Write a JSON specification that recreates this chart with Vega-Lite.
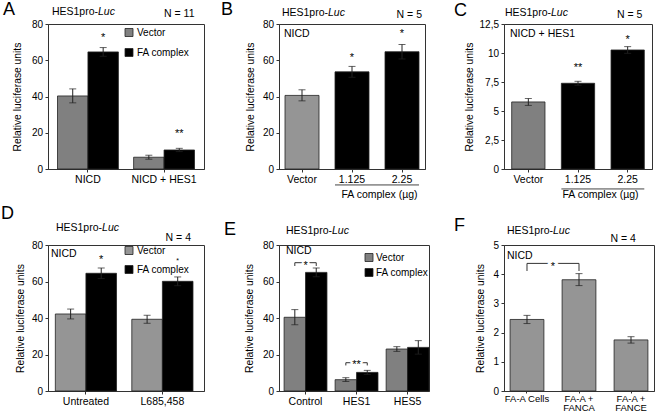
{
"$schema": "https://vega.github.io/schema/vega-lite/v6.json",
"padding": 0,
"background": "white",
"bounds": "flush",
"align": "each",
"columns": 3,
"spacing": {"row": 76, "column": 75},
"resolve": {"scale": {"fill": "independent", "x": "independent", "y": "independent", "xOffset": "independent"}, "legend": {"fill": "independent"}},
"config": {
  "font": "Liberation Sans",
  "view": {"stroke": "#333", "strokeWidth": 1},
  "axis": {"grid": false, "labelColor": "black", "titleColor": "black", "titleFontWeight": "normal", "titleFontSize": 10.3, "domainColor": "#333", "tickColor": "#333", "tickSize": 3, "labelPadding": 2.5},
  "axisX": {"labelAngle": 0, "labelFontSize": 10.5},
  "axisY": {"labelFontSize": 10, "titlePadding": 7, "labelOverlap": false},
  "title": {"fontSize": 18, "fontWeight": "normal", "anchor": "start", "frame": "group", "offset": 0, "color": "black"},
  "text": {"fontSize": 10.5, "color": "black"},
  "legend": {"orient": "none", "title": null, "symbolType": "square", "symbolSize": 64, "symbolStrokeColor": "#222", "symbolStrokeWidth": 0.8, "symbolOpacity": 1, "labelFontSize": 10, "labelOffset": 3, "padding": 0, "labelColor": "black"}
},
"concat": [
  {
   "width": 156, "height": 145,
   "title": {"text": "A", "dx": -45, "dy": 16},
   "layer": [
    {"data": {"values": [
      {"cat": "NICD", "grp": "Vector", "v": 40.3, "lo": 36.5, "hi": 44.2},
      {"cat": "NICD", "grp": "FA complex", "v": 64.6, "lo": 62.2, "hi": 67.0},
      {"cat": "NICD + HES1", "grp": "Vector", "v": 6.5, "lo": 5.4, "hi": 7.6},
      {"cat": "NICD + HES1", "grp": "FA complex", "v": 10.5, "lo": 9.6, "hi": 11.4}]},
     "layer": [
      {"mark": {"type": "bar", "stroke": "#222", "strokeWidth": 0.8},
       "encoding": {
        "x": {"field": "cat", "type": "nominal", "scale": {"domain": ["NICD", "NICD + HES1"], "paddingInner": 0.2, "paddingOuter": 0.125}, "axis": {"title": null}},
        "xOffset": {"field": "grp", "type": "nominal", "scale": {"domain": ["Vector", "FA complex"], "paddingInner": 0, "paddingOuter": 0}},
        "y": {"field": "v", "type": "quantitative", "scale": {"domain": [0, 80], "nice": false}, "axis": {"title": "Relative luciferase units", "values": [0, 20, 40, 60, 80], "tickCount": 5, "labelOverlap": false, "titlePadding": 9}},
        "fill": {"field": "grp", "type": "nominal", "scale": {"domain": ["Vector", "FA complex"], "range": ["#808080", "#000000"]}, "legend": {"legendX": 76, "legendY": 3.5, "rowPadding": 8}}}},
      {"mark": {"type": "rule", "color": "#222"}, "encoding": {"x": {"field": "cat", "type": "nominal"}, "xOffset": {"field": "grp", "type": "nominal"}, "y": {"field": "lo", "type": "quantitative"}, "y2": {"field": "hi"}}},
      {"mark": {"type": "tick", "color": "#222", "size": 7, "thickness": 1}, "encoding": {"x": {"field": "cat", "type": "nominal"}, "xOffset": {"field": "grp", "type": "nominal"}, "y": {"field": "hi", "type": "quantitative"}}},
      {"mark": {"type": "tick", "color": "#222", "size": 7, "thickness": 1}, "encoding": {"x": {"field": "cat", "type": "nominal"}, "xOffset": {"field": "grp", "type": "nominal"}, "y": {"field": "lo", "type": "quantitative"}}}
     ]},
    {"data": {"values": [{"cat": "NICD", "grp": "FA complex", "v": 74.3, "label": "*"}, {"cat": "NICD + HES1", "grp": "FA complex", "v": 21.0, "label": "**"}]},
     "mark": {"type": "text", "fontSize": 11, "baseline": "alphabetic", "dy": 6.4},
     "encoding": {"x": {"field": "cat", "type": "nominal"}, "xOffset": {"field": "grp", "type": "nominal"}, "y": {"field": "v", "type": "quantitative"}, "text": {"field": "label"}}},
    {"data": {"values": [{}]},
     "layer": [
      {"mark": {"type": "text", "text": "HES1pro-", "align": "right", "baseline": "middle", "dx": 40.5}, "encoding": {"x": {"datum": "NICD", "bandPosition": 0}, "y": {"datum": 86.6}}},
      {"mark": {"type": "text", "text": "Luc", "fontStyle": "italic", "align": "left", "baseline": "middle", "dx": 40.5}, "encoding": {"x": {"datum": "NICD", "bandPosition": 0}, "y": {"datum": 86.6}}},
      {"mark": {"type": "text", "text": "N = 11", "align": "right", "baseline": "middle", "dx": 0}, "encoding": {"x": {"datum": "NICD + HES1", "bandPosition": 1}, "y": {"datum": 85.5}}}
     ]}
   ]
  },
  {
   "width": 146, "height": 145,
   "title": {"text": "B", "dx": -58, "dy": 15},
   "layer": [
    {"data": {"values": [
      {"cat": "Vector", "grp": "Vector", "v": 40.6, "lo": 37.6, "hi": 43.7},
      {"cat": "1.125", "grp": "FA complex", "v": 53.6, "lo": 50.6, "hi": 56.6},
      {"cat": "2.25", "grp": "FA complex", "v": 64.7, "lo": 60.7, "hi": 68.7}]},
     "layer": [
      {"mark": {"type": "bar", "stroke": "#222", "strokeWidth": 0.8},
       "encoding": {
        "x": {"field": "cat", "type": "nominal", "scale": {"domain": ["Vector", "1.125", "2.25"], "paddingInner": 0.32, "paddingOuter": 0.12}, "axis": {"title": "FA complex (µg)", "titleX": 100, "titleY": 20, "titleBaseline": "top", "titleAlign": "center", "titleFontSize": 10.5}},
        "y": {"field": "v", "type": "quantitative", "scale": {"domain": [0, 80], "nice": false}, "axis": {"title": "Relative luciferase units", "values": [0, 20, 40, 60, 80], "tickCount": 5, "labelOverlap": false}},
        "fill": {"field": "grp", "type": "nominal", "scale": {"domain": ["Vector", "FA complex"], "range": ["#959595", "#000000"]}, "legend": null}}},
      {"mark": {"type": "rule", "color": "#222"}, "encoding": {"x": {"field": "cat", "type": "nominal"}, "y": {"field": "lo", "type": "quantitative"}, "y2": {"field": "hi"}}},
      {"mark": {"type": "tick", "color": "#222", "size": 7, "thickness": 1}, "encoding": {"x": {"field": "cat", "type": "nominal"}, "y": {"field": "hi", "type": "quantitative"}}},
      {"mark": {"type": "tick", "color": "#222", "size": 7, "thickness": 1}, "encoding": {"x": {"field": "cat", "type": "nominal"}, "y": {"field": "lo", "type": "quantitative"}}}
     ]},
    {"data": {"values": [{"cat": "1.125", "v": 63.3, "label": "*"}, {"cat": "2.25", "v": 76.1, "label": "*"}]},
     "mark": {"type": "text", "fontSize": 11, "baseline": "alphabetic", "dy": 6.4},
     "encoding": {"x": {"field": "cat", "type": "nominal"}, "y": {"field": "v", "type": "quantitative"}, "text": {"field": "label"}}},
    {"data": {"values": [{"a": "1.125", "b": "2.25", "y": -8.8}]},
     "mark": {"type": "rule", "color": "#444", "strokeWidth": 1},
     "encoding": {"x": {"field": "a", "type": "nominal", "bandPosition": 0}, "x2": {"field": "b", "bandPosition": 1}, "y": {"field": "y", "type": "quantitative"}}},
    {"data": {"values": [{}]},
     "layer": [
      {"mark": {"type": "text", "text": "HES1pro-", "align": "right", "baseline": "middle", "dx": 43}, "encoding": {"x": {"datum": "Vector", "bandPosition": 0}, "y": {"datum": 86.2}}},
      {"mark": {"type": "text", "text": "Luc", "fontStyle": "italic", "align": "left", "baseline": "middle", "dx": 43}, "encoding": {"x": {"datum": "Vector", "bandPosition": 0}, "y": {"datum": 86.2}}},
      {"mark": {"type": "text", "text": "N = 5", "align": "right", "baseline": "middle", "dx": 3}, "encoding": {"x": {"datum": "2.25", "bandPosition": 1}, "y": {"datum": 85}}},
      {"mark": {"type": "text", "text": "NICD", "align": "left", "baseline": "middle", "dx": -1}, "encoding": {"x": {"datum": "Vector", "bandPosition": 0}, "y": {"datum": 74.5}}}
     ]}
   ]
  },
  {
   "width": 148, "height": 145,
   "title": {"text": "C", "dx": -50, "dy": 16.5},
   "layer": [
    {"data": {"values": [
      {"cat": "Vector", "grp": "Vector", "v": 5.78, "lo": 5.48, "hi": 6.08},
      {"cat": "1.125", "grp": "FA complex", "v": 7.39, "lo": 7.22, "hi": 7.56},
      {"cat": "2.25", "grp": "FA complex", "v": 10.26, "lo": 9.97, "hi": 10.55}]},
     "layer": [
      {"mark": {"type": "bar", "stroke": "#222", "strokeWidth": 0.8},
       "encoding": {
        "x": {"field": "cat", "type": "nominal", "scale": {"domain": ["Vector", "1.125", "2.25"], "paddingInner": 0.33, "paddingOuter": 0.155}, "axis": {"title": "FA complex (µg)", "titleX": 96, "titleY": 20, "titleBaseline": "top", "titleAlign": "center", "titleFontSize": 10.5}},
        "y": {"field": "v", "type": "quantitative", "scale": {"domain": [0, 12.5], "nice": false}, "axis": {"title": "Relative luciferase units", "tickCount": 25, "labelOverlap": false, "labelExpr": "datum.value % 2.5 == 0 ? replace(format(datum.value, '~g'), '.', ',') : ''", "tickOpacity": {"condition": {"test": "datum.value % 2.5 == 0", "value": 1}, "value": 0}, "titlePadding": 5}},
        "fill": {"field": "grp", "type": "nominal", "scale": {"domain": ["Vector", "FA complex"], "range": ["#808080", "#000000"]}, "legend": null}}},
      {"mark": {"type": "rule", "color": "#222"}, "encoding": {"x": {"field": "cat", "type": "nominal"}, "y": {"field": "lo", "type": "quantitative"}, "y2": {"field": "hi"}}},
      {"mark": {"type": "tick", "color": "#222", "size": 7, "thickness": 1}, "encoding": {"x": {"field": "cat", "type": "nominal"}, "y": {"field": "hi", "type": "quantitative"}}},
      {"mark": {"type": "tick", "color": "#222", "size": 7, "thickness": 1}, "encoding": {"x": {"field": "cat", "type": "nominal"}, "y": {"field": "lo", "type": "quantitative"}}}
     ]},
    {"data": {"values": [{"cat": "1.125", "v": 9.03, "label": "**"}, {"cat": "2.25", "v": 11.4, "label": "*"}]},
     "mark": {"type": "text", "fontSize": 11, "baseline": "alphabetic", "dy": 6.4},
     "encoding": {"x": {"field": "cat", "type": "nominal"}, "y": {"field": "v", "type": "quantitative"}, "text": {"field": "label"}}},
    {"data": {"values": [{"a": "1.125", "b": "2.25", "y": -1.72}]},
     "mark": {"type": "rule", "color": "#444", "strokeWidth": 1},
     "encoding": {"x": {"field": "a", "type": "nominal", "bandPosition": 0}, "x2": {"field": "b", "bandPosition": 1}, "y": {"field": "y", "type": "quantitative"}}},
    {"data": {"values": [{}]},
     "layer": [
      {"mark": {"type": "text", "text": "HES1pro-", "align": "right", "baseline": "middle", "dx": 39.3}, "encoding": {"x": {"datum": "Vector", "bandPosition": 0}, "y": {"datum": 13.47}}},
      {"mark": {"type": "text", "text": "Luc", "fontStyle": "italic", "align": "left", "baseline": "middle", "dx": 39.3}, "encoding": {"x": {"datum": "Vector", "bandPosition": 0}, "y": {"datum": 13.47}}},
      {"mark": {"type": "text", "text": "N = 5", "align": "right", "baseline": "middle", "dx": -2}, "encoding": {"x": {"datum": "2.25", "bandPosition": 1}, "y": {"datum": 13.28}}},
      {"mark": {"type": "text", "text": "NICD + HES1", "align": "left", "baseline": "middle", "dx": -1.7}, "encoding": {"x": {"datum": "Vector", "bandPosition": 0}, "y": {"datum": 11.64}}}
     ]}
   ]
  },
  {
   "width": 156, "height": 146,
   "title": {"text": "D", "dx": -47, "dy": 4},
   "layer": [
    {"data": {"values": [
      {"cat": "Untreated", "grp": "Vector", "v": 42.2, "lo": 39.5, "hi": 44.9},
      {"cat": "Untreated", "grp": "FA complex", "v": 64.5, "lo": 61.6, "hi": 67.4},
      {"cat": "L685,458", "grp": "Vector", "v": 39.3, "lo": 37.1, "hi": 41.5},
      {"cat": "L685,458", "grp": "FA complex", "v": 60.1, "lo": 57.7, "hi": 62.5}]},
     "layer": [
      {"mark": {"type": "bar", "stroke": "#222", "strokeWidth": 0.8},
       "encoding": {
        "x": {"field": "cat", "type": "nominal", "scale": {"domain": ["Untreated", "L685,458"], "paddingInner": 0.2, "paddingOuter": 0.12, "align": 0.4}, "axis": {"title": null}},
        "xOffset": {"field": "grp", "type": "nominal", "scale": {"domain": ["Vector", "FA complex"], "paddingInner": 0, "paddingOuter": 0}},
        "y": {"field": "v", "type": "quantitative", "scale": {"domain": [0, 80], "nice": false}, "axis": {"title": "Relative luciferase units", "values": [0, 20, 40, 60, 80], "tickCount": 5, "labelOverlap": false, "titlePadding": 6}},
        "fill": {"field": "grp", "type": "nominal", "scale": {"domain": ["Vector", "FA complex"], "range": ["#959595", "#000000"]}, "legend": {"legendX": 76, "legendY": 0.5, "rowPadding": 7}}}},
      {"mark": {"type": "rule", "color": "#222"}, "encoding": {"x": {"field": "cat", "type": "nominal"}, "xOffset": {"field": "grp", "type": "nominal"}, "y": {"field": "lo", "type": "quantitative"}, "y2": {"field": "hi"}}},
      {"mark": {"type": "tick", "color": "#222", "size": 7, "thickness": 1}, "encoding": {"x": {"field": "cat", "type": "nominal"}, "xOffset": {"field": "grp", "type": "nominal"}, "y": {"field": "hi", "type": "quantitative"}}},
      {"mark": {"type": "tick", "color": "#222", "size": 7, "thickness": 1}, "encoding": {"x": {"field": "cat", "type": "nominal"}, "xOffset": {"field": "grp", "type": "nominal"}, "y": {"field": "lo", "type": "quantitative"}}}
     ]},
    {"data": {"values": [{"cat": "Untreated", "grp": "FA complex", "v": 73.6, "label": "*"}]},
     "mark": {"type": "text", "fontSize": 11, "baseline": "alphabetic", "dy": 6.4},
     "encoding": {"x": {"field": "cat", "type": "nominal"}, "xOffset": {"field": "grp", "type": "nominal"}, "y": {"field": "v", "type": "quantitative"}, "text": {"field": "label"}}},
    {"data": {"values": [{"cat": "L685,458", "grp": "FA complex", "v": 72.2, "label": "*"}]},
     "mark": {"type": "text", "fontSize": 7, "baseline": "alphabetic", "dy": 4},
     "encoding": {"x": {"field": "cat", "type": "nominal"}, "xOffset": {"field": "grp", "type": "nominal"}, "y": {"field": "v", "type": "quantitative"}, "text": {"field": "label"}}},
    {"data": {"values": [{}]},
     "layer": [
      {"mark": {"type": "text", "text": "HES1pro-", "align": "right", "baseline": "middle", "dx": 46.7}, "encoding": {"x": {"datum": "Untreated", "bandPosition": 0}, "y": {"datum": 89.3}}},
      {"mark": {"type": "text", "text": "Luc", "fontStyle": "italic", "align": "left", "baseline": "middle", "dx": 46.7}, "encoding": {"x": {"datum": "Untreated", "bandPosition": 0}, "y": {"datum": 89.3}}},
      {"mark": {"type": "text", "text": "N = 4", "align": "right", "baseline": "middle", "dx": -2}, "encoding": {"x": {"datum": "L685,458", "bandPosition": 1}, "y": {"datum": 83.8}}},
      {"mark": {"type": "text", "text": "NICD", "align": "left", "baseline": "middle", "dx": -4.3}, "encoding": {"x": {"datum": "Untreated", "bandPosition": 0}, "y": {"datum": 75.1}}}
     ]}
   ]
  },
  {
   "width": 150, "height": 146,
   "title": {"text": "E", "dx": -55, "dy": 17},
   "layer": [
    {"data": {"values": [
      {"cat": "Control", "grp": "Vector", "v": 40.4, "lo": 36.3, "hi": 44.6},
      {"cat": "Control", "grp": "FA complex", "v": 65.0, "lo": 62.6, "hi": 67.4},
      {"cat": "HES1", "grp": "Vector", "v": 6.2, "lo": 5.2, "hi": 7.3},
      {"cat": "HES1", "grp": "FA complex", "v": 10.2, "lo": 9.1, "hi": 11.3},
      {"cat": "HES5", "grp": "Vector", "v": 23.0, "lo": 21.7, "hi": 24.3},
      {"cat": "HES5", "grp": "FA complex", "v": 23.9, "lo": 20.2, "hi": 27.6}]},
     "layer": [
      {"mark": {"type": "bar", "stroke": "#222", "strokeWidth": 0.8},
       "encoding": {
        "x": {"field": "cat", "type": "nominal", "scale": {"domain": ["Control", "HES1", "HES5"], "paddingInner": 0.16, "paddingOuter": 0.05, "align": 1}, "axis": {"title": null}},
        "xOffset": {"field": "grp", "type": "nominal", "scale": {"domain": ["Vector", "FA complex"], "paddingInner": 0, "paddingOuter": 0}},
        "y": {"field": "v", "type": "quantitative", "scale": {"domain": [0, 80], "nice": false}, "axis": {"title": "Relative luciferase units", "values": [0, 20, 40, 60, 80], "tickCount": 5, "labelOverlap": false, "titlePadding": 8}},
        "fill": {"field": "grp", "type": "nominal", "scale": {"domain": ["Vector", "FA complex"], "range": ["#808080", "#000000"]}, "legend": {"legendX": 85, "legendY": 7.5, "rowPadding": 3, "labelOffset": 2}}}},
      {"mark": {"type": "rule", "color": "#222"}, "encoding": {"x": {"field": "cat", "type": "nominal"}, "xOffset": {"field": "grp", "type": "nominal"}, "y": {"field": "lo", "type": "quantitative"}, "y2": {"field": "hi"}}},
      {"mark": {"type": "tick", "color": "#222", "size": 7, "thickness": 1}, "encoding": {"x": {"field": "cat", "type": "nominal"}, "xOffset": {"field": "grp", "type": "nominal"}, "y": {"field": "hi", "type": "quantitative"}}},
      {"mark": {"type": "tick", "color": "#222", "size": 7, "thickness": 1}, "encoding": {"x": {"field": "cat", "type": "nominal"}, "xOffset": {"field": "grp", "type": "nominal"}, "y": {"field": "lo", "type": "quantitative"}}}
     ]},
    {"data": {"values": [{"cat": "Control", "y": 70.3, "yt": 68.5}, {"cat": "HES1", "y": 15.5, "yt": 14.0}]},
     "layer": [
      {"mark": {"type": "rule", "color": "#333"}, "encoding": {"x": {"field": "cat", "type": "nominal", "bandPosition": 0.25}, "x2": {"field": "cat", "bandPosition": 0.75}, "y": {"field": "y", "type": "quantitative"}}},
      {"mark": {"type": "rule", "color": "#333"}, "encoding": {"x": {"field": "cat", "type": "nominal", "bandPosition": 0.25}, "y": {"field": "y", "type": "quantitative"}, "y2": {"field": "yt"}}},
      {"mark": {"type": "rule", "color": "#333"}, "encoding": {"x": {"field": "cat", "type": "nominal", "bandPosition": 0.75}, "y": {"field": "y", "type": "quantitative"}, "y2": {"field": "yt"}}}
     ]},
    {"data": {"values": [{"cat": "Control", "v": 70.6, "label": "*"}, {"cat": "HES1", "v": 16.1, "label": "**"}]},
     "layer": [
      {"mark": {"type": "text", "fontSize": 11, "baseline": "alphabetic", "dy": 6.4, "stroke": "white", "strokeWidth": 3.5, "fill": "white"},
       "encoding": {"x": {"field": "cat", "type": "nominal"}, "y": {"field": "v", "type": "quantitative"}, "text": {"field": "label"}}},
      {"mark": {"type": "text", "fontSize": 11, "baseline": "alphabetic", "dy": 6.4},
       "encoding": {"x": {"field": "cat", "type": "nominal"}, "y": {"field": "v", "type": "quantitative"}, "text": {"field": "label"}}}
     ]},
    {"data": {"values": [{}]},
     "layer": [
      {"mark": {"type": "text", "text": "HES1pro-", "align": "right", "baseline": "middle", "dx": 47.9}, "encoding": {"x": {"datum": "Control", "bandPosition": 0}, "y": {"datum": 87.7}}},
      {"mark": {"type": "text", "text": "Luc", "fontStyle": "italic", "align": "left", "baseline": "middle", "dx": 47.9}, "encoding": {"x": {"datum": "Control", "bandPosition": 0}, "y": {"datum": 87.7}}},
      {"mark": {"type": "text", "text": "NICD", "align": "left", "baseline": "middle", "dx": 1.9}, "encoding": {"x": {"datum": "Control", "bandPosition": 0}, "y": {"datum": 76.7}}}
     ]}
   ]
  },
  {
   "width": 150, "height": 146,
   "title": {"text": "F", "dx": -50, "dy": 13},
   "layer": [
    {"data": {"values": [
      {"cat": "FA-A Cells", "v": 2.45, "lo": 2.31, "hi": 2.59},
      {"cat": "FA-A + FANCA", "v": 3.81, "lo": 3.61, "hi": 4.02},
      {"cat": "FA-A + FANCE", "v": 1.75, "lo": 1.64, "hi": 1.86}]},
     "layer": [
      {"mark": {"type": "bar", "stroke": "#222", "strokeWidth": 0.8, "fill": "#959595"},
       "encoding": {
        "x": {"field": "cat", "type": "nominal", "scale": {"domain": ["FA-A Cells", "FA-A + FANCA", "FA-A + FANCE"], "paddingInner": 0.35, "paddingOuter": 0.117}, "axis": {"title": null, "labelFontSize": 9.5, "labelLineHeight": 9.5, "labelPadding": 0, "tickSize": 2, "labelExpr": "datum.value == 'FA-A Cells' ? datum.label : [slice(datum.label, 0, 6), slice(datum.label, 7)]"}},
        "y": {"field": "v", "type": "quantitative", "scale": {"domain": [0, 5], "nice": false}, "axis": {"title": "Relative luciferase units", "values": [0, 1, 2, 3, 4, 5], "tickCount": 6, "labelOverlap": false}}}},
      {"mark": {"type": "rule", "color": "#222"}, "encoding": {"x": {"field": "cat", "type": "nominal"}, "y": {"field": "lo", "type": "quantitative"}, "y2": {"field": "hi"}}},
      {"mark": {"type": "tick", "color": "#222", "size": 7, "thickness": 1}, "encoding": {"x": {"field": "cat", "type": "nominal"}, "y": {"field": "hi", "type": "quantitative"}}},
      {"mark": {"type": "tick", "color": "#222", "size": 7, "thickness": 1}, "encoding": {"x": {"field": "cat", "type": "nominal"}, "y": {"field": "lo", "type": "quantitative"}}}
     ]},
    {"data": {"values": [{"c1": "FA-A Cells", "c2": "FA-A + FANCA", "y": 4.37, "yt": 4.11}]},
     "layer": [
      {"mark": {"type": "rule", "color": "#333"}, "encoding": {"x": {"field": "c1", "type": "nominal", "bandPosition": 0.5}, "x2": {"field": "c2", "bandPosition": 0.5}, "y": {"field": "y", "type": "quantitative"}}},
      {"mark": {"type": "rule", "color": "#333"}, "encoding": {"x": {"field": "c1", "type": "nominal"}, "y": {"field": "y", "type": "quantitative"}, "y2": {"field": "yt"}}},
      {"mark": {"type": "rule", "color": "#333"}, "encoding": {"x": {"field": "c2", "type": "nominal"}, "y": {"field": "y", "type": "quantitative"}, "y2": {"field": "yt"}}},
      {"mark": {"type": "text", "text": "*", "fontSize": 11, "baseline": "alphabetic", "dy": 6.4, "dx": 26, "stroke": "white", "strokeWidth": 6, "fill": "white"}, "encoding": {"x": {"field": "c1", "type": "nominal"}, "y": {"field": "y", "type": "quantitative"}}},
      {"mark": {"type": "text", "text": "*", "fontSize": 11, "baseline": "alphabetic", "dy": 6.4, "dx": 26}, "encoding": {"x": {"field": "c1", "type": "nominal"}, "y": {"field": "y", "type": "quantitative"}}}
     ]},
    {"data": {"values": [{}]},
     "layer": [
      {"mark": {"type": "text", "text": "HES1pro-", "align": "right", "baseline": "middle", "dx": 42.9}, "encoding": {"x": {"datum": "FA-A Cells", "bandPosition": 0}, "y": {"datum": 5.48}}},
      {"mark": {"type": "text", "text": "Luc", "fontStyle": "italic", "align": "left", "baseline": "middle", "dx": 42.9}, "encoding": {"x": {"datum": "FA-A Cells", "bandPosition": 0}, "y": {"datum": 5.48}}},
      {"mark": {"type": "text", "text": "N = 4", "align": "right", "baseline": "middle", "dx": -12}, "encoding": {"x": {"datum": "FA-A + FANCE", "bandPosition": 1}, "y": {"datum": 5.2}}},
      {"mark": {"type": "text", "text": "NICD", "align": "left", "baseline": "middle", "dx": -3.1}, "encoding": {"x": {"datum": "FA-A Cells", "bandPosition": 0}, "y": {"datum": 4.62}}}
     ]}
   ]
  }
]
}
